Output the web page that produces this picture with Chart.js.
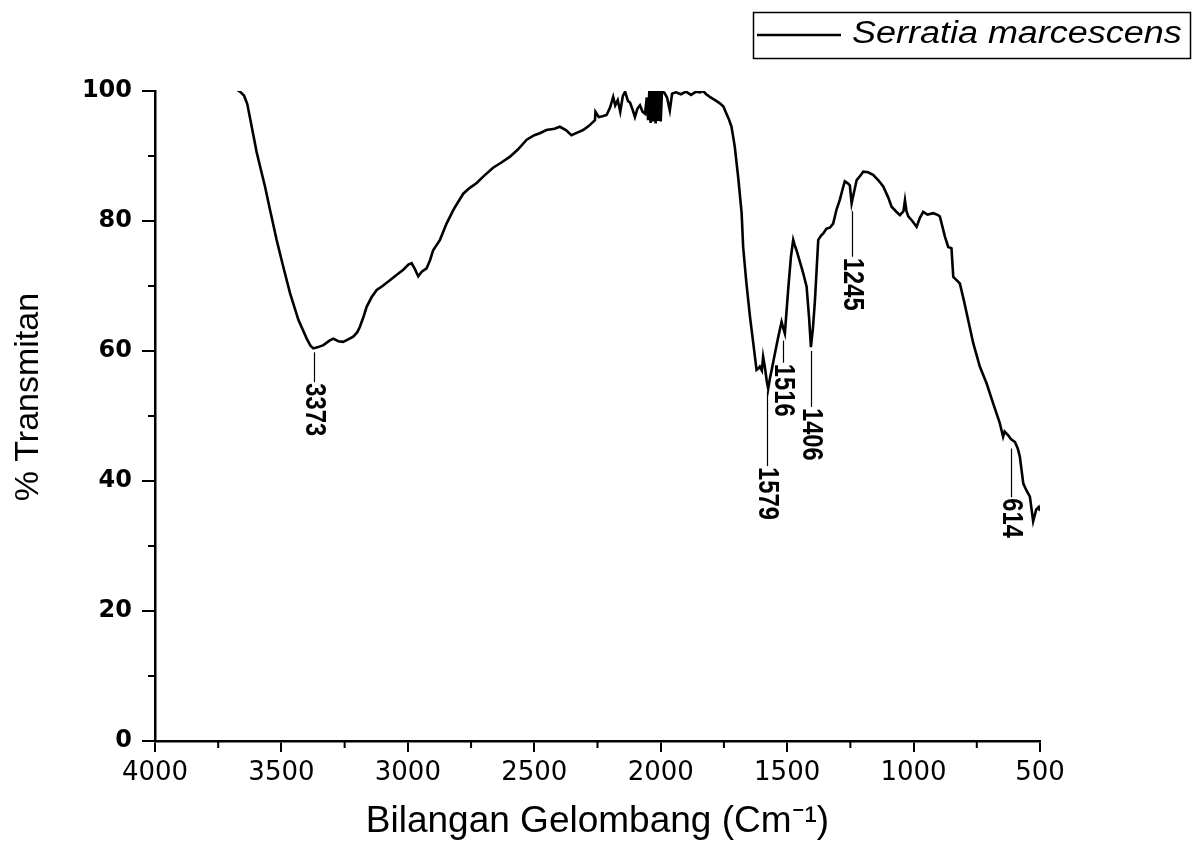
<!DOCTYPE html>
<html>
<head>
<meta charset="utf-8">
<script src="https://cdn.jsdelivr.net/npm/chart.js@4.4.1/dist/chart.umd.min.js"></script>
<style>
  html, body { margin: 0; padding: 0; background: #fff; }
  #wrap { width: 1195px; height: 844px; }
</style>
</head>
<body>
<div id="wrap"><canvas id="ftir" width="1195" height="844"></canvas></div>
<script>
// wavenumber (cm-1) and % transmittance
var wavenumber = [3676, 3664, 3648, 3635, 3624, 3610, 3598, 3580, 3565, 3545, 3519, 3493, 3466, 3433, 3400, 3385, 3374, 3355, 3334, 3310,
  3295, 3275, 3256, 3236, 3216, 3200, 3190, 3175, 3163, 3143, 3123, 3100, 3071, 3045, 3018, 2998, 2985, 2972, 2959, 2945,
  2926, 2912, 2900, 2873, 2847, 2820, 2800, 2781, 2755, 2729, 2700, 2663, 2630, 2596, 2565, 2530, 2500, 2478, 2452, 2420,
  2399, 2375, 2353, 2330, 2307, 2285, 2260, 2258, 2245, 2230, 2214, 2200, 2188, 2180, 2170, 2160, 2150, 2141, 2130, 2121,
  2110, 2102, 2092, 2082, 2072, 2062, 2055, 2050, 2045, 2040, 2035, 2030, 2025, 2020, 2015, 2010, 2005, 2000, 1995, 1985,
  1975, 1964, 1955, 1940, 1920, 1900, 1880, 1860, 1845, 1832, 1820, 1806, 1785, 1766, 1752, 1740, 1730, 1720, 1707, 1693,
  1680, 1674, 1661, 1647, 1634, 1621, 1614, 1608, 1600, 1595, 1588, 1581, 1575, 1568, 1561, 1548, 1535, 1522, 1516, 1509,
  1496, 1485, 1476, 1470, 1463, 1450, 1436, 1423, 1413, 1406, 1398, 1390, 1377, 1365, 1357, 1345, 1330, 1318, 1305, 1292,
  1280, 1272, 1260, 1252, 1245, 1238, 1225, 1210, 1199, 1180, 1160, 1140, 1120, 1100, 1087, 1070, 1054, 1040, 1034, 1028,
  1021, 1005, 988, 975, 962, 945, 922, 903, 896, 876, 863, 850, 843, 830, 817, 800, 790, 764, 738, 711,
  685, 659, 646, 640, 625, 614, 599, 588, 580, 566, 553, 540, 527, 515, 505, 500];
var transmitan = [100.2, 99.9, 99.3, 98.0, 95.8, 93.0, 90.6, 87.7, 85.3, 81.7, 77.1, 73.0, 68.9, 64.8, 61.9, 60.8, 60.4, 60.6, 60.9, 61.6,
  61.9, 61.5, 61.4, 61.8, 62.2, 62.9, 63.7, 65.3, 66.8, 68.3, 69.4, 70.0, 70.9, 71.7, 72.5, 73.3, 73.5, 72.6, 71.5, 72.2,
  72.7, 74.0, 75.5, 77.1, 79.6, 81.7, 83.0, 84.2, 85.1, 85.8, 86.9, 88.2, 89.0, 89.9, 91.0, 92.5, 93.2, 93.5, 94.0, 94.2,
  94.5, 94.0, 93.2, 93.6, 94.0, 94.6, 95.5, 96.8, 96.0, 96.1, 96.3, 97.5, 99.1, 97.8, 98.6, 96.8, 99.2, 99.9, 98.5, 98.2,
  97.0, 96.0, 97.3, 97.8, 96.8, 96.5, 99.0, 95.5, 100, 95.1, 100, 95.3, 100, 95.0, 100, 95.4, 100, 95.3, 100, 99.7,
  99.0, 97.0, 99.6, 99.8, 99.5, 99.9, 99.4, 99.9, 99.8, 100, 99.5, 99.1, 98.6, 98.1, 97.6, 96.5, 95.6, 94.5, 91.4, 86.5,
  81.2, 76.0, 70.4, 65.3, 61.2, 57.1, 57.3, 57.6, 57.0, 59.1, 57.5, 55.5, 54.2, 55.8, 57.1, 59.7, 62.2, 64.5, 63.6, 62.7,
  69.4, 74.5, 77.1, 76.3, 75.5, 73.8, 71.9, 69.9, 65.0, 60.6, 63.5, 67.8, 77.1, 77.8, 78.1, 78.8, 79.0, 79.6, 81.7, 83.2,
  85.0, 86.1, 85.8, 85.5, 82.7, 84.0, 86.3, 87.0, 87.6, 87.5, 87.1, 86.3, 85.3, 83.6, 82.2, 81.5, 80.9, 81.5, 83.2, 81.5,
  80.7, 80.0, 79.1, 80.5, 81.4, 81.0, 81.2, 80.9, 80.7, 77.6, 76.0, 75.8, 71.4, 70.9, 70.4, 67.6, 65.8, 61.2, 57.6, 55.0,
  51.9, 48.9, 46.8, 47.6, 47.0, 46.4, 46.0, 45.0, 43.8, 39.6, 38.5, 37.6, 33.8, 35.6, 36.0, 35.4];

// peak labels: wavenumber, where the leader starts (on curve) and ends (% T)
var peakWn = [3373, 1579, 1516, 1406, 1245, 614];
var peakFrom = [59.8, 53.8, 61.6, 60.0, 81.5, 45.0];
var peakTo = [55.2, 42.3, 58.2, 51.4, 74.5, 37.5];

var xTicks = [4000, 3500, 3000, 2500, 2000, 1500, 1000, 500];
var xMinor = [3750, 3250, 2750, 2250, 1750, 1250, 750];
var yTicks = [0, 20, 40, 60, 80, 100];
var yMinor = [10, 30, 50, 70, 90];

var seriesName = 'Serratia marcescens';

var points = [];
for (var i = 0; i < wavenumber.length; i++) {
  points.push({ x: wavenumber[i], y: transmitan[i] });
}

// minor ticks, peak labels and the boxed legend
var extras = {
  id: 'extras',
  afterDraw: function (chart) {
    var ctx = chart.ctx;
    var xs = chart.scales.x, ys = chart.scales.y;
    var area = chart.chartArea;
    ctx.save();
    ctx.strokeStyle = '#000';
    ctx.lineWidth = 2;
    ctx.beginPath();
    xMinor.forEach(function (v) {
      var px = xs.getPixelForValue(v);
      ctx.moveTo(px, area.bottom);
      ctx.lineTo(px, area.bottom + 7);
    });
    yMinor.forEach(function (v) {
      var py = ys.getPixelForValue(v);
      ctx.moveTo(area.left, py);
      ctx.lineTo(area.left - 7, py);
    });
    ctx.stroke();

    // peak leaders
    ctx.lineWidth = 1.2;
    ctx.fillStyle = '#000';
    ctx.font = 'bold 29px "Liberation Sans", Arial, sans-serif';
    for (var k = 0; k < peakWn.length; k++) {
      var px = Math.round(xs.getPixelForValue(peakWn[k])) + 0.5;
      var y1 = ys.getPixelForValue(peakFrom[k]);
      var y2 = ys.getPixelForValue(peakTo[k]);
      ctx.beginPath();
      ctx.moveTo(px, y1);
      ctx.lineTo(px, y2);
      ctx.stroke();
      ctx.save();
      ctx.translate(px, y2 + 1);
      ctx.rotate(Math.PI / 2);
      ctx.scale(0.82, 1);
      ctx.textAlign = 'left';
      ctx.textBaseline = 'middle';
      ctx.fillText(String(peakWn[k]), 0, 1);
      ctx.restore();
    }

    // legend box
    ctx.lineWidth = 1.5;
    ctx.strokeRect(753.5, 12.5, 437, 46);
    ctx.lineWidth = 2.5;
    ctx.beginPath();
    ctx.moveTo(757, 35);
    ctx.lineTo(841, 35);
    ctx.stroke();
    ctx.save();
    ctx.translate(852, 43);
    ctx.scale(1.16, 1);
    ctx.font = 'italic 31px "Liberation Sans", Arial, sans-serif';
    ctx.textAlign = 'left';
    ctx.textBaseline = 'alphabetic';
    ctx.fillText(seriesName, 0, 0);
    ctx.restore();
    ctx.restore();
  }
};

var chart = new Chart(document.getElementById('ftir'), {
  type: 'line',
  data: {
    datasets: [{
      label: seriesName,
      data: points,
      borderColor: '#000',
      borderWidth: 2.6,
      pointRadius: 0,
      tension: 0,
      fill: false
    }]
  },
  options: {
    responsive: false,
    animation: false,
    layout: { padding: { left: 0, right: 155, top: 91, bottom: 0 } },
    plugins: {
      legend: { display: false },
      tooltip: { enabled: false }
    },
    scales: {
      x: {
        type: 'linear',
        reverse: true,
        min: 500,
        max: 4000,
        afterFit: function (s) { s.height = 103; },
        afterBuildTicks: function (s) { s.ticks = xTicks.map(function (v) { return { value: v }; }); },
        grid: { drawOnChartArea: false, drawTicks: true, tickLength: 11, color: '#000', lineWidth: 2 },
        border: { display: true, color: '#000', width: 2.5 },
        ticks: { color: '#000', padding: 6, maxRotation: 0, autoSkip: false,
          callback: function (v) { return String(v); },
          font: { family: '"DejaVu Sans", sans-serif', size: 26 } },
        title: { display: true, text: 'Bilangan Gelombang (Cm\u207B\u00B9)', color: '#000',
          padding: { top: 0, bottom: 0 },
          font: { family: '"Liberation Sans", Arial, sans-serif', size: 37 } }
      },
      y: {
        min: 0,
        max: 100,
        afterFit: function (s) { s.width = 155; },
        afterBuildTicks: function (s) { s.ticks = yTicks.map(function (v) { return { value: v }; }); },
        grid: { drawOnChartArea: false, drawTicks: true, tickLength: 13, color: '#000', lineWidth: 2 },
        border: { display: true, color: '#000', width: 2.5 },
        ticks: { color: '#000', padding: 10,
          font: { family: '"DejaVu Sans", sans-serif', size: 24, weight: 'bold' } },
        title: { display: true, text: '    % Transmitan', color: '#000',
          padding: { top: 8, bottom: 0 },
          font: { family: '"Liberation Sans", Arial, sans-serif', size: 34 } }
      }
    }
  },
  plugins: [extras]
});
</script>
</body>
</html>
